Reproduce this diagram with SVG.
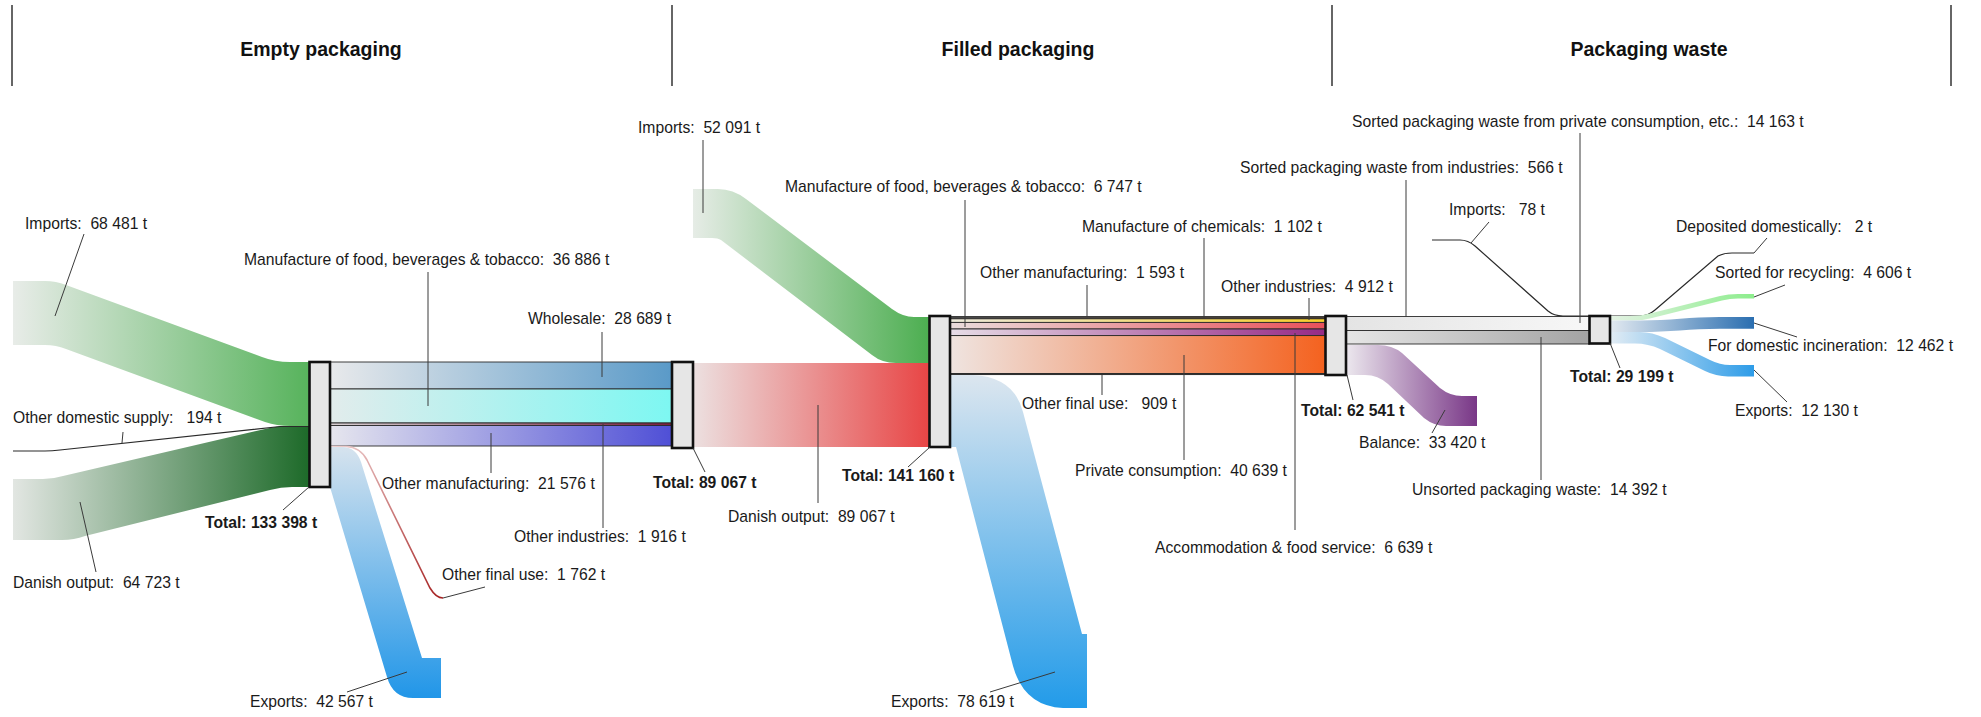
<svg xmlns="http://www.w3.org/2000/svg" width="1981" height="717" viewBox="0 0 1981 717" xml:space="preserve">
<style>
.hdr{font-family:"Liberation Sans",Arial,sans-serif;font-weight:bold;font-size:19.5px;fill:#111;text-anchor:middle}
.lbl{font-family:"Liberation Sans",Arial,sans-serif;font-size:15.7px;fill:#1a1a1a;white-space:pre}
.tot{font-weight:bold}
.lead{stroke:#3a3a3a;stroke-width:1;fill:none}
.node{fill:#e6e6e6;stroke:#111;stroke-width:2.6}
.band{stroke:#2a2a2a;stroke-width:0.9}
.sep{stroke:#333;stroke-width:1.5}
.thin{fill:none;stroke:#2a2a2a;stroke-width:1.2}
</style>
<defs>
<linearGradient id="gImpL"><stop offset="0" stop-color="#e8ece8"/><stop offset="1" stop-color="#57b35c"/></linearGradient>
<linearGradient id="gDanL"><stop offset="0" stop-color="#e2e6e2"/><stop offset="1" stop-color="#1d6a29"/></linearGradient>
<linearGradient id="gWhole"><stop offset="0" stop-color="#e8e9eb"/><stop offset="1" stop-color="#5a9ac8"/></linearGradient>
<linearGradient id="gFood"><stop offset="0" stop-color="#e2ecec"/><stop offset="1" stop-color="#7df7f2"/></linearGradient>
<linearGradient id="gOInd"><stop offset="0" stop-color="#d8d0d4"/><stop offset="1" stop-color="#7a1f3e"/></linearGradient>
<linearGradient id="gOMfr"><stop offset="0" stop-color="#e6e6ee"/><stop offset="1" stop-color="#4f4fd6"/></linearGradient>
<linearGradient id="gOFU" x1="0" y1="0" x2="1" y2="1"><stop offset="0" stop-color="#f0d4d4"/><stop offset="1" stop-color="#a52020"/></linearGradient>
<linearGradient id="gExpL" x1="0" y1="0" x2="0" y2="1"><stop offset="0" stop-color="#d6e3ee"/><stop offset="1" stop-color="#2196e8"/></linearGradient>
<linearGradient id="gRed"><stop offset="0" stop-color="#ece0e0"/><stop offset="1" stop-color="#e84545"/></linearGradient>
<linearGradient id="gImpM"><stop offset="0" stop-color="#e6ece6"/><stop offset="1" stop-color="#4cae50"/></linearGradient>
<linearGradient id="gExpM" x1="0" y1="0" x2="0" y2="1"><stop offset="0" stop-color="#dce6ef"/><stop offset="1" stop-color="#229be9"/></linearGradient>
<linearGradient id="gMOMfr"><stop offset="0" stop-color="#e4e4e4"/><stop offset="1" stop-color="#d8c060"/></linearGradient>
<linearGradient id="gMChem"><stop offset="0" stop-color="#e6e0e0"/><stop offset="1" stop-color="#d04848"/></linearGradient>
<linearGradient id="gMOInd"><stop offset="0" stop-color="#eeeadc"/><stop offset="1" stop-color="#f7cf2a"/></linearGradient>
<linearGradient id="gMFood"><stop offset="0" stop-color="#eadcdc"/><stop offset="1" stop-color="#e8505a"/></linearGradient>
<linearGradient id="gMAcc"><stop offset="0" stop-color="#e6dce6"/><stop offset="1" stop-color="#962a86"/></linearGradient>
<linearGradient id="gMPriv"><stop offset="0" stop-color="#efe4e0"/><stop offset="1" stop-color="#f4621f"/></linearGradient>
<linearGradient id="gSorted"><stop offset="0" stop-color="#e4e4e4"/><stop offset="1" stop-color="#f7f7f7"/></linearGradient>
<linearGradient id="gUnsorted"><stop offset="0" stop-color="#e6e6e6"/><stop offset="1" stop-color="#a3a3a3"/></linearGradient>
<linearGradient id="gBal"><stop offset="0" stop-color="#ece8ee"/><stop offset="1" stop-color="#793787"/></linearGradient>
<linearGradient id="gRec"><stop offset="0" stop-color="#e4f2e4"/><stop offset="1" stop-color="#8ded8d"/></linearGradient>
<linearGradient id="gInc"><stop offset="0" stop-color="#e2e9f0"/><stop offset="1" stop-color="#2a6eb0"/></linearGradient>
<linearGradient id="gExpR"><stop offset="0" stop-color="#e2ecf4"/><stop offset="1" stop-color="#2d9ce8"/></linearGradient>
</defs>
<rect width="1981" height="717" fill="#ffffff"/>
<g id="header">
<line x1="12" y1="5" x2="12" y2="86" class="sep"/>
<line x1="672" y1="5" x2="672" y2="86" class="sep"/>
<line x1="1332" y1="5" x2="1332" y2="86" class="sep"/>
<line x1="1951" y1="5" x2="1951" y2="86" class="sep"/>
<text x="321" y="56" class="hdr">Empty packaging</text>
<text x="1018" y="56" class="hdr">Filled packaging</text>
<text x="1649" y="56" class="hdr">Packaging waste</text>
</g>
<g id="connectors">
<path d="M13,281 L45,281 Q56,281 66,285 L262,357 Q275,362 290,362 L309.5,362 L309.5,426 L290,426 Q277,426 265,422 L66,349 Q56,345 45,345 L13,345 Z" fill="url(#gImpL)"/>
<path d="M13,479 L43,479 Q53,479 63,476 L265,429 Q276,426 290,426 L309.5,426 L309.5,487 L292,487 Q281,487 270,490 L85,536 Q74,540 62,540 L13,540 Z" fill="url(#gDanL)"/>
<path d="M13,451 L45,451 Q52,451 60,450 L280,426.5 L309.5,426.5" class="thin"/>
<rect x="330" y="362" width="342" height="27" fill="url(#gWhole)" class="band"/>
<rect x="330" y="389" width="342" height="34" fill="url(#gFood)" class="band"/>
<rect x="330" y="423" width="342" height="2.5" fill="url(#gOInd)" class="band"/>
<rect x="330" y="425.5" width="342" height="20.5" fill="url(#gOMfr)" class="band"/>
<path d="M330,446.5 L346,446.5 Q360,447 367,460 L430,588 Q436,598 443,598" fill="none" stroke="url(#gOFU)" stroke-width="1.6"/>
<path d="M330,447 L342,447 Q356,447 361,462 L422,658 L441,658 L441,698 L413,698 Q393,698 387,677 L330,487 Z" fill="url(#gExpL)"/>
<rect x="693" y="363" width="236.5" height="84" fill="url(#gRed)"/>
<path d="M693,189 L718,189 Q733,189 746,199 L892,309 Q903,317 914,317 L929.5,317 L929.5,363 L896,363 Q882,363 872,355 L721,240 Q718,238 712,238 L693,238 Z" fill="url(#gImpM)"/>
<rect x="950" y="316.5" width="375.5" height="1.3" fill="url(#gMOMfr)" class="band"/>
<rect x="950" y="317.8" width="375.5" height="1" fill="url(#gMChem)" class="band"/>
<rect x="950" y="318.8" width="375.5" height="3.6" fill="url(#gMOInd)" class="band"/>
<rect x="950" y="322.4" width="375.5" height="6.6" fill="url(#gMFood)" class="band"/>
<rect x="950" y="329" width="375.5" height="6.6" fill="url(#gMAcc)" class="band"/>
<rect x="950" y="335.6" width="375.5" height="38" fill="url(#gMPriv)" class="band"/>
<rect x="950" y="373.6" width="375.5" height="1" fill="#3a3a3a" class="band"/>
<path d="M950,375 L973,375 Q1014,377 1023,412 L1082,634 L1087,634 L1087,708 L1063,708 Q1024,706 1013,666 L956,447 L950,447 Z" fill="url(#gExpM)"/>
<rect x="1346" y="316.5" width="243.5" height="14" fill="url(#gSorted)" class="band"/>
<rect x="1346" y="330.5" width="243.5" height="13.5" fill="url(#gUnsorted)" class="band"/>
<path d="M1432,240 L1460,240 Q1468,240 1475,246 L1548,311 Q1554,316 1563,316 L1589.5,316" class="thin"/>
<path d="M1346,345 L1378,345 Q1392,345 1402,353 L1440,388 Q1450,396 1462,396 L1477,396 L1477,426 L1446,426 Q1434,426 1424,418 L1388,384 Q1378,375 1365,375 L1346,375 Z" fill="url(#gBal)"/>
<path d="M1610,316 L1640,316 Q1648,316 1655,310 L1718,256 Q1724,253 1732,253 L1754,253" class="thin"/>
<path d="M1610,316 L1630,316 Q1640,316 1650,313.5 L1720,296 Q1728,294 1738,294 L1754,294 L1754,298.5 L1738,298.5 Q1730,298.5 1722,300.5 L1652,318 Q1643,320.5 1632,320.5 L1610,320.5 Z" fill="url(#gRec)"/>
<path d="M1610,320.5 L1640,320.5 C1670,320.5 1690,317 1720,317 L1754,317 L1754,328.7 L1720,328.7 C1690,328.7 1670,332 1640,332 L1610,332 Z" fill="url(#gInc)"/>
<path d="M1610,332 L1640,332 Q1652,332 1665,338 L1710,360 Q1720,365 1730,365 L1754,365 L1754,376.4 L1728,376.4 Q1716,376.4 1705,371 L1660,349 Q1648,343.5 1635,343.5 L1610,343.5 Z" fill="url(#gExpR)"/>
</g>
<g id="node-empty-total">
<rect x="309.5" y="362" width="20.5" height="125" class="node"/>
<line x1="283" y1="510" x2="309" y2="487" class="lead"/>
<text x="205" y="528" class="lbl tot">Total: 133 398 t</text>
</g>
<g id="node-empty-to-filled">
<rect x="672" y="362" width="21" height="86" class="node"/>
<line x1="693" y1="448" x2="705" y2="472" class="lead"/>
<text x="653" y="488" class="lbl tot">Total: 89 067 t</text>
</g>
<g id="node-filled-total">
<rect x="929.5" y="316" width="20.5" height="131" class="node"/>
<line x1="930" y1="447" x2="908" y2="467" class="lead"/>
<text x="842" y="481" class="lbl tot">Total: 141 160 t</text>
</g>
<g id="node-use-total">
<rect x="1325.5" y="316" width="20.5" height="59" class="node"/>
<line x1="1347" y1="375" x2="1353" y2="400" class="lead"/>
<text x="1301" y="416" class="lbl tot">Total: 62 541 t</text>
</g>
<g id="node-waste-total">
<rect x="1589.5" y="316" width="20.5" height="27.5" class="node"/>
<line x1="1610" y1="343" x2="1620" y2="368" class="lead"/>
<text x="1570" y="382" class="lbl tot">Total: 29 199 t</text>
</g>
<g id="labels">
<line x1="84" y1="234" x2="55" y2="316" class="lead"/>
<text x="25" y="229" class="lbl">Imports:  68 481 t</text>
<line x1="122" y1="443" x2="123" y2="432" class="lead"/>
<text x="13" y="423" class="lbl">Other domestic supply:   194 t</text>
<line x1="96" y1="572" x2="80" y2="502" class="lead"/>
<text x="13" y="588" class="lbl">Danish output:  64 723 t</text>
<line x1="428" y1="272" x2="428" y2="406" class="lead"/>
<text x="244" y="265" class="lbl">Manufacture of food, beverages &amp; tobacco:  36 886 t</text>
<line x1="602" y1="332" x2="602" y2="377" class="lead"/>
<text x="528" y="324" class="lbl">Wholesale:  28 689 t</text>
<line x1="491" y1="433" x2="491" y2="473" class="lead"/>
<text x="382" y="489" class="lbl">Other manufacturing:  21 576 t</text>
<line x1="603" y1="424" x2="603" y2="528" class="lead"/>
<text x="514" y="542" class="lbl">Other industries:  1 916 t</text>
<line x1="443" y1="598" x2="485" y2="587" class="lead"/>
<text x="442" y="580" class="lbl">Other final use:  1 762 t</text>
<line x1="347" y1="692" x2="407" y2="672" class="lead"/>
<text x="250" y="707" class="lbl">Exports:  42 567 t</text>
<line x1="703" y1="140" x2="703" y2="213" class="lead"/>
<text x="638" y="133" class="lbl">Imports:  52 091 t</text>
<line x1="818" y1="405" x2="818" y2="503" class="lead"/>
<text x="728" y="522" class="lbl">Danish output:  89 067 t</text>
<line x1="965" y1="200" x2="965" y2="327" class="lead"/>
<text x="785" y="192" class="lbl">Manufacture of food, beverages &amp; tobacco:  6 747 t</text>
<line x1="1087" y1="285" x2="1087" y2="316" class="lead"/>
<text x="980" y="278" class="lbl">Other manufacturing:  1 593 t</text>
<line x1="1204" y1="238" x2="1204" y2="318" class="lead"/>
<text x="1082" y="232" class="lbl">Manufacture of chemicals:  1 102 t</text>
<line x1="1309" y1="298" x2="1309" y2="320" class="lead"/>
<text x="1221" y="292" class="lbl">Other industries:  4 912 t</text>
<line x1="1102" y1="375" x2="1102" y2="395" class="lead"/>
<text x="1022" y="409" class="lbl">Other final use:   909 t</text>
<line x1="1184" y1="355" x2="1184" y2="460" class="lead"/>
<text x="1075" y="476" class="lbl">Private consumption:  40 639 t</text>
<line x1="1295" y1="333" x2="1295" y2="530" class="lead"/>
<text x="1155" y="553" class="lbl">Accommodation &amp; food service:  6 639 t</text>
<line x1="990" y1="692" x2="1055" y2="672" class="lead"/>
<text x="891" y="707" class="lbl">Exports:  78 619 t</text>
<line x1="1580" y1="133" x2="1580" y2="323" class="lead"/>
<text x="1352" y="127" class="lbl">Sorted packaging waste from private consumption, etc.:  14 163 t</text>
<line x1="1406" y1="180" x2="1406" y2="317" class="lead"/>
<text x="1240" y="173" class="lbl">Sorted packaging waste from industries:  566 t</text>
<line x1="1489" y1="222" x2="1471" y2="243" class="lead"/>
<text x="1449" y="215" class="lbl">Imports:   78 t</text>
<line x1="1432" y1="433" x2="1445" y2="410" class="lead"/>
<text x="1359" y="448" class="lbl">Balance:  33 420 t</text>
<line x1="1541" y1="337" x2="1541" y2="480" class="lead"/>
<text x="1412" y="495" class="lbl">Unsorted packaging waste:  14 392 t</text>
<line x1="1754" y1="253" x2="1767" y2="238" class="lead"/>
<text x="1676" y="232" class="lbl">Deposited domestically:   2 t</text>
<line x1="1754" y1="297" x2="1785" y2="285" class="lead"/>
<text x="1715" y="278" class="lbl">Sorted for recycling:  4 606 t</text>
<line x1="1754" y1="323" x2="1797" y2="337" class="lead"/>
<text x="1708" y="351" class="lbl">For domestic incineration:  12 462 t</text>
<line x1="1754" y1="370" x2="1787" y2="402" class="lead"/>
<text x="1735" y="416" class="lbl">Exports:  12 130 t</text>
</g>
</svg>
